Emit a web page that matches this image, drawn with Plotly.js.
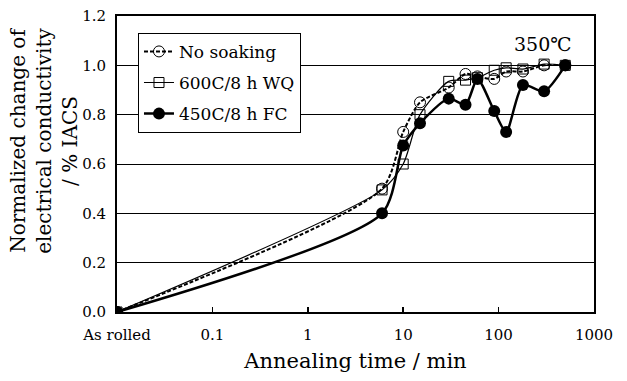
<!DOCTYPE html>
<html>
<head>
<meta charset="utf-8">
<script src="https://cdn.plot.ly/plotly-3.0.1.min.js"></script>
<style>html,body{margin:0;padding:0;background:#fff;}#chart{width:627px;height:381px;}</style>
</head>
<body>
<div id="chart"></div>
<script>
// Annealing time (min); "As rolled" plotted at 0.01
const times = [0.01, 6, 10, 15, 30, 45, 60, 90, 120, 180, 300, 500];
const noSoaking = [0, 0.50, 0.73, 0.85, 0.91, 0.965, 0.955, 0.945, 0.975, 0.975, 1.0, 1.0];
const wq600 = [0, 0.495, 0.60, 0.80, 0.935, 0.94, 0.95, 0.98, 0.99, 0.985, 1.005, 1.0];
const fc450 = [0, 0.40, 0.675, 0.765, 0.865, 0.84, 0.945, 0.815, 0.73, 0.92, 0.895, 1.0];
const seriesNames = ['No soaking', '600C/8 h WQ', '450C/8 h FC'];
const xTickVals = [0.01, 0.1, 1, 10, 100, 1000];
const xTickText = ['As rolled', '0.1', '1', '10', '100', '1000'];
const yTickVals = [0, 0.2, 0.4, 0.6, 0.8, 1.0, 1.2];
const yTickText = ['0.0', '0.2', '0.4', '0.6', '0.8', '1.0', '1.2'];

const FONT = 'DejaVu Serif, Liberation Serif, serif';

const traces = [
  {x: times, y: noSoaking, name: seriesNames[0], type: 'scatter', mode: 'lines+markers', legendgroup: 'a',
   line: {color: '#000', width: 2, dash: '4px,2px', shape: 'spline', smoothing: 0.7},
   marker: {symbol: 'circle-open', size: 11, color: '#000', line: {width: 1, color: '#000'}}},
  {x: times, y: wq600, name: seriesNames[1], type: 'scatter', mode: 'lines+markers', legendgroup: 'b',
   line: {color: '#000', width: 1.2, shape: 'spline', smoothing: 0.7},
   marker: {symbol: 'square-open', size: 10, color: '#000', line: {width: 1, color: '#000'}}},
  {x: times, y: fc450, name: seriesNames[2], type: 'scatter', mode: 'lines+markers', legendgroup: 'c',
   line: {color: '#000', width: 2.5, shape: 'spline', smoothing: 0.7},
   marker: {symbol: 'circle', size: 12, color: '#000'}}
];

const layout = {
  width: 627, height: 381,
  margin: {l: 117, r: 33, t: 16, b: 69},
  paper_bgcolor: '#fff', plot_bgcolor: '#fff',
  font: {family: FONT, color: '#000', size: 15},
  showlegend: true,
  legend: {x: 0.044, y: 0.943, xanchor: 'left', yanchor: 'top', bgcolor: '#fff',
           bordercolor: '#000', borderwidth: 1, font: {family: FONT, size: 17, color: '#000'},
           tracegroupgap: 6, itemwidth: 30},
  xaxis: {type: 'log', range: [-2, 3], tickvals: xTickVals, ticktext: xTickText,
          ticks: 'inside', ticklen: 5, tickwidth: 1.5, tickcolor: '#000', ticklabelstandoff: 8,
          showgrid: false, zeroline: false, showline: true, linecolor: '#000', linewidth: 2, mirror: true,
          tickfont: {family: FONT, size: 15, color: '#000'},
          title: {text: 'Annealing time / min', font: {family: FONT, size: 21, color: '#000'}, standoff: 10}},
  yaxis: {range: [0, 1.2], tickvals: yTickVals, ticktext: yTickText, ticks: '', ticklabelstandoff: 6,
          showgrid: true, gridcolor: '#000', gridwidth: 1, zeroline: false,
          showline: true, linecolor: '#000', linewidth: 2, mirror: true,
          tickfont: {family: FONT, size: 15, color: '#000'}},
  annotations: [
    {text: 'Normalized change of<br>electrical conductivity<br>/ % IACS', xref: 'paper', yref: 'paper',
     x: -0.152, y: 0.58, xanchor: 'center', yanchor: 'middle', textangle: -90, showarrow: false,
     font: {family: FONT, size: 20, color: '#000'}},
    {text: '350℃', xref: 'paper', yref: 'paper', x: 0.893, y: 0.905, xanchor: 'center', yanchor: 'middle',
     showarrow: false, font: {family: FONT, size: 19, color: '#000'}}
  ]
};

Plotly.newPlot('chart', traces, layout, {displayModeBar: false, staticPlot: true});
</script>
</body>
</html>
